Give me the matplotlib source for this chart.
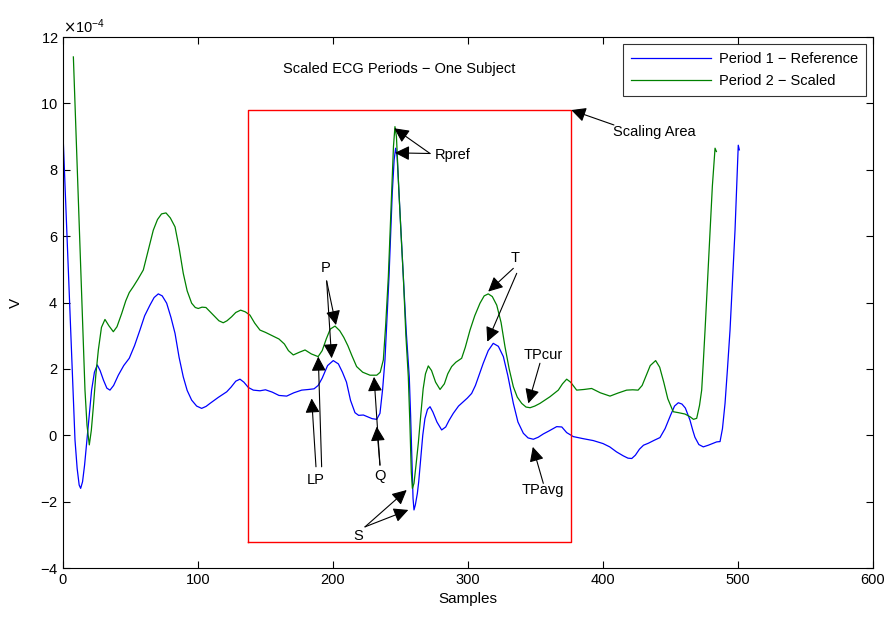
import numpy as np
import matplotlib
matplotlib.use("Agg")
import matplotlib.pyplot as plt
from matplotlib.ticker import ScalarFormatter

plt.rcParams['font.family'] = ['Liberation Sans', 'DejaVu Sans']

# period 1 (reference): samples, volts x 1e-4
ref_x = [0, 3, 6, 8.9, 10.5, 12, 13.1, 14.5, 16, 17.5, 19.3, 21.2, 23.3, 25.4, 27.5, 30, 32.5, 34.8,
         37.5, 41, 45, 49.1, 53, 57, 60.5, 64.4, 67.5, 70.6, 73.5, 76.8, 80, 83, 86, 89.1, 92, 95.3,
         99, 102.7, 106, 108.9, 112, 115, 118, 121.3, 124.5, 128, 131.1, 134, 137.3, 141, 145.9,
         150, 155, 160, 165.7, 171, 176.8, 182, 186, 189, 192, 196, 200.2, 204, 207, 210, 213,
         216.3, 219, 222.5, 226, 229, 232.4, 234.8, 236.8, 238.5, 240, 241.5, 243.9, 245.3, 246.4,
         247.5, 248.9, 250.5, 252.1, 254.3, 256.5, 257.5, 258.5, 259.3, 260, 261, 262.5, 263.5,
         265, 266.5, 268.1, 270, 271.9, 274, 277, 280.5, 283.5, 286, 289.1, 293, 296.5, 299.5,
         302.7, 305.5, 308.5, 311.3, 315, 318.7, 322.5, 326.2, 329.5, 333.6, 337, 341, 344.5,
         348.4, 352, 355.8, 360, 365.7, 369.5, 373.1, 378, 385, 392.8, 400, 405, 410, 415, 418.5,
         421.3, 424, 427, 430, 433.6, 438, 442.2, 446, 450, 453, 455.8, 458.5, 461, 464.4, 466.5,
         468.1, 471, 474.3, 478, 481.7, 484.2, 486.7, 488.5, 490.4, 492.2, 494.1, 496, 497.8,
         499.2, 500.2, 501]
ref_v = [9.1, 6.0, 2.9, -0.14, -1.0, -1.5, -1.6, -1.4, -0.9, -0.25, 0.5, 1.36, 1.9, 2.12, 1.95,
         1.66, 1.42, 1.36, 1.5, 1.81, 2.1, 2.32, 2.7, 3.17, 3.6, 3.92, 4.15, 4.26, 4.2, 3.98, 3.55,
         3.07, 2.35, 1.76, 1.35, 1.06, 0.88, 0.81, 0.87, 0.96, 1.05, 1.14, 1.22, 1.31, 1.45, 1.63,
         1.69, 1.6, 1.44, 1.36, 1.34, 1.37, 1.3, 1.2, 1.18, 1.28, 1.36, 1.38, 1.40, 1.5, 1.72, 2.1,
         2.25, 2.15, 1.9, 1.6, 1.05, 0.68, 0.6, 0.61, 0.55, 0.5, 0.48, 0.66, 1.4, 2.27, 3.5, 4.78,
         7.29, 8.3, 8.65, 8.4, 7.29, 6.0, 4.78, 3.1, 1.76, 0.6, -0.8, -1.9, -2.25, -2.1, -1.75,
         -1.4, -0.7, 0.0, 0.5, 0.78, 0.86, 0.7, 0.4, 0.16, 0.25, 0.45, 0.66, 0.88, 1.01, 1.12,
         1.26, 1.5, 1.85, 2.17, 2.55, 2.77, 2.68, 2.37, 1.8, 0.96, 0.4, 0.06, -0.08, -0.12, -0.06,
         0.04, 0.13, 0.26, 0.25, 0.08, -0.04, -0.1, -0.16, -0.25, -0.35, -0.5, -0.62, -0.69,
         -0.70, -0.6, -0.42, -0.3, -0.24, -0.15, -0.07, 0.2, 0.6, 0.88, 0.98, 0.94, 0.82, 0.46,
         0.15, -0.06, -0.28, -0.35, -0.3, -0.24, -0.2, -0.19, 0.2, 0.96, 2.0, 3.17, 4.7, 6.18,
         7.7, 8.74, 8.6]

# period 2 (scaled)
scl_x = [7.7, 10, 13, 16.3, 17.8, 19.5, 21, 22.5, 24.3, 26.2, 28.5, 31.1, 34, 37.3, 40, 43.5,
         46.5, 49.1, 52.1, 55.5, 59.5, 63, 66.9, 70, 73, 76.3, 79.5, 83, 86, 89.1, 92, 95.3, 98,
         100.2, 103, 105.9, 109, 112.6, 115.5, 118.7, 121.5, 124.9, 128, 131.6, 135, 138.5, 142,
         145.9, 150, 155, 160, 164, 167, 170.6, 175, 179.3, 184, 189, 192, 195, 198, 201.5, 205,
         208, 211, 214, 217.5, 222, 227.4, 232.4, 235, 237.3, 239, 241, 243.4, 244.8, 245.9, 247,
         248.9, 250.5, 252.1, 254, 255.8, 257, 258, 258.8, 260, 261.5, 263.2, 265, 266.8, 268.5,
         270.6, 273, 276, 279.3, 282.5, 285, 287.9, 291, 295.3, 298, 301.5, 305, 308.9, 312, 315,
         318, 321.3, 324.5, 327.4, 330.5, 333.6, 336.5, 339.8, 343, 346, 349.5, 353.3, 357, 360.7,
         363.5, 366.9, 370, 373.1, 376, 380.5, 386, 391.6, 398, 405.2, 411, 417.5, 422, 426, 429,
         432, 435, 439, 442, 445, 448, 452, 456, 460.7, 464.4, 467, 469.4, 471.5, 473.1, 474.3,
         475.6, 477.5, 479.3, 481, 483, 484]
scl_v = [11.4, 8.7, 5.2, 1.36, 0.3, -0.29, 0.15, 0.86, 1.8, 2.57, 3.25, 3.49, 3.3, 3.12, 3.27,
         3.67, 4.05, 4.3, 4.48, 4.7, 4.98, 5.55, 6.18, 6.5, 6.67, 6.7, 6.55, 6.28, 5.65, 4.88,
         4.35, 3.98, 3.85, 3.82, 3.86, 3.85, 3.72, 3.57, 3.45, 3.39, 3.45, 3.57, 3.7, 3.77, 3.72,
         3.62, 3.38, 3.17, 3.1, 3.0, 2.9, 2.75, 2.55, 2.42, 2.5, 2.57, 2.45, 2.37, 2.55, 2.9, 3.2,
         3.29, 3.15, 2.95, 2.7, 2.4, 2.07, 1.9, 1.81, 1.81, 1.9, 2.27, 3.3, 4.78, 7.29, 8.7, 9.3,
         9.0, 7.29, 6.0, 4.78, 3.0, 1.76, 0.3, -1.1, -1.6, -1.45, -0.9, -0.24, 0.6, 1.4, 1.85,
         2.09, 1.95, 1.6, 1.38, 1.55, 1.85, 2.07, 2.2, 2.32, 2.65, 3.17, 3.6, 3.98, 4.2, 4.26,
         4.18, 3.92, 3.4, 2.67, 2.0, 1.46, 1.15, 0.96, 0.85, 0.83, 0.88, 0.96, 1.06, 1.16, 1.25,
         1.36, 1.55, 1.69, 1.6, 1.36, 1.38, 1.41, 1.28, 1.18, 1.27, 1.36, 1.37, 1.36, 1.5, 1.8,
         2.1, 2.25, 2.05, 1.6, 1.1, 0.71, 0.68, 0.64, 0.56, 0.48, 0.51, 0.9, 1.36, 2.2, 3.17, 4.7,
         6.18, 7.5, 8.65, 8.55]

# scaling area box (samples, V x 1e-4)
box_x = [137, 376.3]
box_v = [-3.22, 9.8]

# annotations: label, label position, arrow tails, arrow tips
notes = [
    ("Rpref", (289, 8.43), [(271.9, 8.49), (271.9, 8.49)], [(245.4, 9.25), (245.9, 8.51)]),
    ("P", (194.8, 5.04), [(195.3, 4.65), (195.3, 4.65)], [(202.2, 3.32), (199.0, 2.32)]),
    ("LP", (187.4, -1.35), [(187.4, -0.95), (191.6, -0.95)], [(184.2, 1.11), (189.1, 2.37)]),
    ("Q", (234.8, -1.23), [(234.8, -0.9), (234.8, -0.9)], [(232.4, 0.26), (230.4, 1.76)]),
    ("S", (218.5, -3.04), [(223.7, -2.76), (223.7, -2.76)], [(254.6, -1.65), (255.8, -2.25)]),
    ("T", (334.8, 5.34), [(333.6, 5.03), (336.1, 4.88)], [(315.0, 4.33), (314.3, 2.82)]),
    ("TPcur", (355.6, 2.42), [(353.3, 2.17)], [(344.7, 0.96)]),
    ("TPavg", (355.6, -1.65), [(355.8, -1.45)], [(348.0, -0.35)]),
]

e = 1e-4
fig = plt.figure(figsize=(8.92, 6.17), dpi=100)
ax = fig.add_axes([0.0706, 0.0794, 0.9081, 0.8606])

ax.plot(ref_x, np.array(ref_v) * e, color='#0000ff', lw=0.9, label='Period 1 − Reference')
ax.plot(scl_x, np.array(scl_v) * e, color='#008000', lw=0.9, label='Period 2 − Scaled')

bx = [box_x[0], box_x[1], box_x[1], box_x[0], box_x[0]]
bv = np.array([box_v[0], box_v[0], box_v[1], box_v[1], box_v[0]]) * e
ax.plot(bx, bv, color='r', lw=1)

aprops = dict(arrowstyle='-|>', color='k', lw=0.8, mutation_scale=22, shrinkA=0, shrinkB=0)
for label, pos, tails, tips in notes:
    for t0, t1 in zip(tails, tips):
        ax.annotate('', xy=(t1[0], t1[1] * e), xytext=(t0[0], t0[1] * e), arrowprops=aprops)
    ax.text(pos[0], pos[1] * e, label, ha='center', va='center', fontsize=10.5)

ax.annotate('', xy=(376.5, 9.8 * e), xytext=(408.1, 9.35 * e), arrowprops=aprops)
ax.text(407.4, 9.14 * e, 'Scaling Area', ha='left', va='center', fontsize=10.5)

ax.text(248.9, 11.03 * e, 'Scaled ECG Periods − One Subject', ha='center', va='center', fontsize=10.5)

ax.set_xlim(0, 600)
ax.set_ylim(-4e-4, 12e-4)
ax.set_xticks(np.arange(0, 601, 100))
ax.set_yticks(np.arange(-4, 13, 2) * e)
fmt = ScalarFormatter(useMathText=True)
fmt.set_powerlimits((-4, -4))
ax.yaxis.set_major_formatter(fmt)
ax.tick_params(direction='in', top=True, right=True, labelsize=10.5, length=5)
ax.set_xlabel('Samples', fontsize=11)
ax.set_ylabel('V', fontsize=11, labelpad=12)
ax.yaxis.get_offset_text().set_fontsize(10.5)

leg = ax.legend(loc='upper right', fontsize=10.5, frameon=True, fancybox=False,
                edgecolor='k', borderaxespad=0.5, handlelength=5.5, handletextpad=0.5,
                borderpad=0.55, labelspacing=0.55)
leg.get_frame().set_linewidth(0.8)

plt.savefig('out.png', dpi=100)
